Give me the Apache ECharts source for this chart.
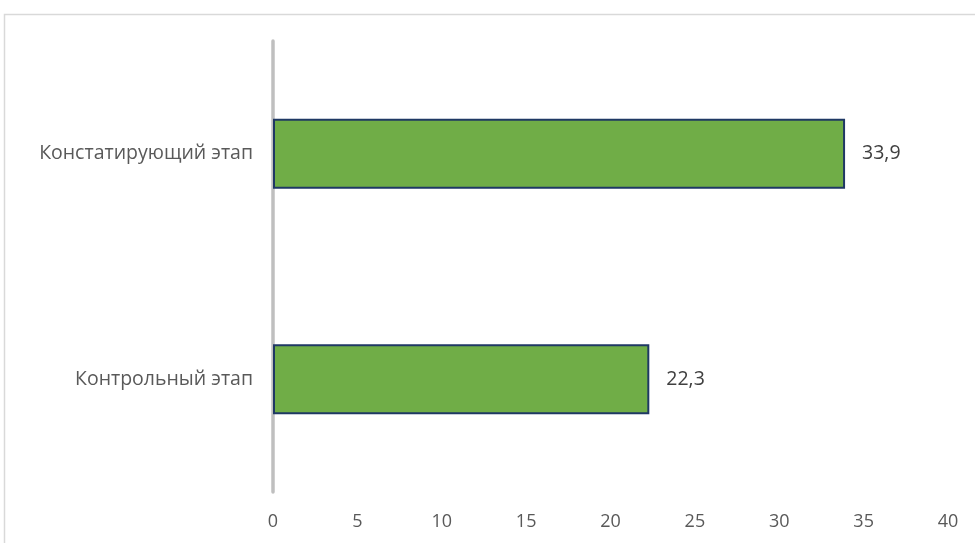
<!DOCTYPE html>
<html>
<head>
<meta charset="utf-8">
<script src="https://cdn.jsdelivr.net/npm/echarts@6/dist/echarts.min.js"></script>
<style>
  html, body { margin: 0; padding: 0; background: #fff; }
  #chart { width: 975px; height: 543px; }
</style>
</head>
<body>
<div id="chart"></div>
<script>
// bottom to top, as the category axis draws them
const stages = ['Контрольный этап', 'Констатирующий этап'];
const scores = [22.3, 33.9];
const xTicks = [0, 40, 5]; // min, max, step

const chart = echarts.init(document.getElementById('chart'));

chart.setOption({
    animation: false,
    textStyle: { fontFamily: 'Open Sans, Liberation Sans, sans-serif' },
    graphic: [{
        type: 'rect',
        shape: { x: 4.5, y: 14.5, width: 1200, height: 1200 },
        style: { fill: 'none', stroke: '#d9d9d9', lineWidth: 1.5 },
        silent: true
    }],
    grid: { left: 273, right: 27, top: 41, bottom: 51, containLabel: false },
    xAxis: {
        type: 'value',
        min: xTicks[0],
        max: xTicks[1],
        interval: xTicks[2],
        axisLine: { show: false },
        axisTick: { show: false },
        splitLine: { show: false },
        axisLabel: { color: '#595959', fontSize: 18, margin: 21 }
    },
    yAxis: {
        type: 'category',
        data: stages,
        axisLine: { show: true, lineStyle: { color: '#bfbfbf', width: 3.5 } },
        axisTick: { show: false },
        axisLabel: { color: '#595959', fontSize: 19.5, margin: 20 }
    },
    series: [{
        type: 'bar',
        data: scores,
        barWidth: '31%',
        itemStyle: {
            color: '#70ad47',
            borderColor: '#1f3864',
            borderWidth: 2
        },
        label: {
            show: true,
            position: 'right',
            distance: 17,
            color: '#404040',
            fontSize: 19.5,
            formatter: p => String(p.value).replace('.', ',')
        }
    }]
});
</script>
</body>
</html>
